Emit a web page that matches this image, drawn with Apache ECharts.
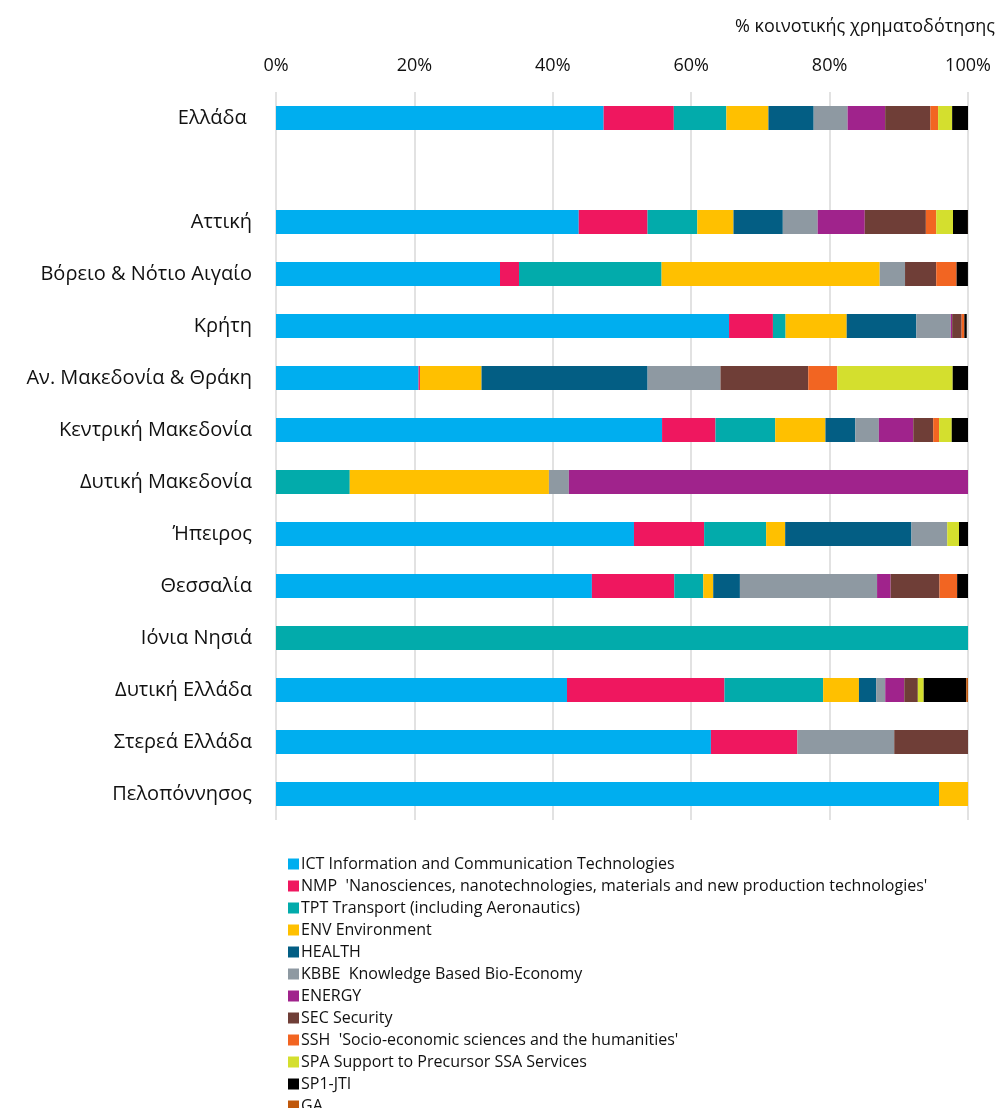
<!DOCTYPE html>
<html>
<head>
<meta charset="utf-8">
<title>Κοινοτική χρηματοδότηση ανά περιφέρεια</title>
<script src="https://cdn.jsdelivr.net/npm/echarts@6/dist/echarts.min.js"></script>
<style>
  html, body { margin: 0; padding: 0; background: #fff; }
  #chart { width: 1003px; height: 1108px; }
</style>
</head>
<body>
<div id="chart"></div>
<script>
// Regions (top to bottom); the empty string is the gap row under Ελλάδα
const regions = ["Ελλάδα ", "", "Αττική", "Βόρειο & Νότιο Αιγαίο", "Κρήτη", "Αν. Μακεδονία & Θράκη",
    "Κεντρική Μακεδονία", "Δυτική Μακεδονία", "Ήπειρος", "Θεσσαλία", "Ιόνια Νησιά",
    "Δυτική Ελλάδα", "Στερεά Ελλάδα", "Πελοπόννησος"]

const xTicks = [0, 20, 40, 60, 80, 100]

// % share of community funding per theme, same order as regions
const ict    = [47.35, null, 43.75, 32.37, 65.47, 20.6, 55.79, 0, 51.73, 45.65, 0, 42.05, 62.85, 95.81]
const nmp    = [10.14, null, 9.94, 2.75, 6.34, 0.2, 7.72, 0, 10.14, 11.9, 0, 22.76, 12.49, 0]
const tpt    = [7.59, null, 7.19, 20.6, 1.83, 0, 8.63, 10.66, 8.96, 4.19, 100, 14.26, 0, 0]
const env    = [6.08, null, 5.23, 31.52, 8.83, 8.9, 7.26, 28.78, 2.75, 1.44, 0, 5.17, 0, 4.19]
const health = [6.54, null, 7.13, 0, 10.07, 24.0, 4.32, 0, 18.25, 3.86, 0, 2.49, 0, 0]
const kbbe   = [4.9, null, 5.04, 3.66, 4.97, 10.53, 3.4, 2.88, 5.17, 19.82, 0, 1.31, 14.0, 0]
const energy = [5.43, null, 6.8, 0, 0.2, 0, 4.97, 57.68, 0, 1.96, 0, 2.75, 0, 0]
const sec    = [6.54, null, 8.83, 4.51, 1.37, 12.69, 2.88, 0, 0, 7.06, 0, 1.96, 10.66, 0]
const ssh    = [1.11, null, 1.5, 2.94, 0.39, 4.19, 0.85, 0, 0, 2.55, 0, 0, 0, 0]
const spa    = [2.03, null, 2.42, 0, 0, 16.68, 1.83, 0, 1.7, 0, 0, 0.85, 0, 0]
const sp1    = [2.29, null, 2.16, 1.64, 0.35, 2.22, 2.35, 0, 1.31, 1.57, 0, 6.15, 0, 0]
const ga     = [0.2, null, 0.2, 0, 0, 0, 0, 0, 0, 0, 0, 0.3, 0, 0]

const themes = [
    { name: "ICT Information and Communication Technologies", data: ict, color: "#00AEEF" },
    { name: "NMP  'Nanosciences, nanotechnologies, materials and new production technologies'", data: nmp, color: "#EF175F" },
    { name: "TPT Transport (including Aeronautics)", data: tpt, color: "#02ABAB" },
    { name: "ENV Environment", data: env, color: "#FFC000" },
    { name: "HEALTH", data: health, color: "#035E84" },
    { name: "KBBE  Knowledge Based Bio-Economy", data: kbbe, color: "#8E99A2" },
    { name: "ENERGY", data: energy, color: "#A0238C" },
    { name: "SEC Security", data: sec, color: "#6F3E37" },
    { name: "SSH  'Socio-economic sciences and the humanities'", data: ssh, color: "#F26522" },
    { name: "SPA Support to Precursor SSA Services", data: spa, color: "#D4DF2E" },
    { name: "SP1-JTI", data: sp1, color: "#000000" },
    { name: "GA", data: ga, color: "#C0580C" },
]

const chart = echarts.init(document.getElementById("chart"))

const option = {
    animation: false,
    title: {
        text: "% κοινοτικής χρηματοδότησης",
        right: 3,
        top: 13,
        textStyle: { fontFamily: "Open Sans", fontSize: 18, fontWeight: "normal", color: "#111" },
    },
    grid: { left: 276, right: 35, top: 92, bottom: 288 },
    xAxis: {
        type: "value",
        position: "top",
        min: xTicks[0],
        max: xTicks[xTicks.length - 1],
        interval: 20,
        axisLine: { show: false },
        axisTick: { show: false },
        axisLabel: {
            formatter: "{value}%",
            fontFamily: "Open Sans",
            fontSize: 18,
            color: "#111",
            margin: 17,
        },
        splitLine: { lineStyle: { color: "#d9d9d9", width: 1.5 } },
    },
    yAxis: {
        type: "category",
        data: regions,
        inverse: true,
        axisLine: { show: false },
        axisTick: { show: false },
        axisLabel: { fontFamily: "Open Sans", fontSize: 20, color: "#111", margin: 24 },
    },
    legend: {
        orient: "vertical",
        left: 283,
        top: 851,
        height: 290,
        itemWidth: 11,
        itemHeight: 11,
        itemGap: 6,
        icon: "rect",
        textStyle: { fontFamily: "Open Sans", fontSize: 16, color: "#111", lineHeight: 16, padding: [0, 0, 0, -3] },
    },
    series: themes.map(t => ({
        name: t.name,
        type: "bar",
        stack: "total",
        barWidth: 24,
        data: t.data,
        itemStyle: { color: t.color },
    })),
}

chart.setOption(option)
</script>
</body>
</html>
